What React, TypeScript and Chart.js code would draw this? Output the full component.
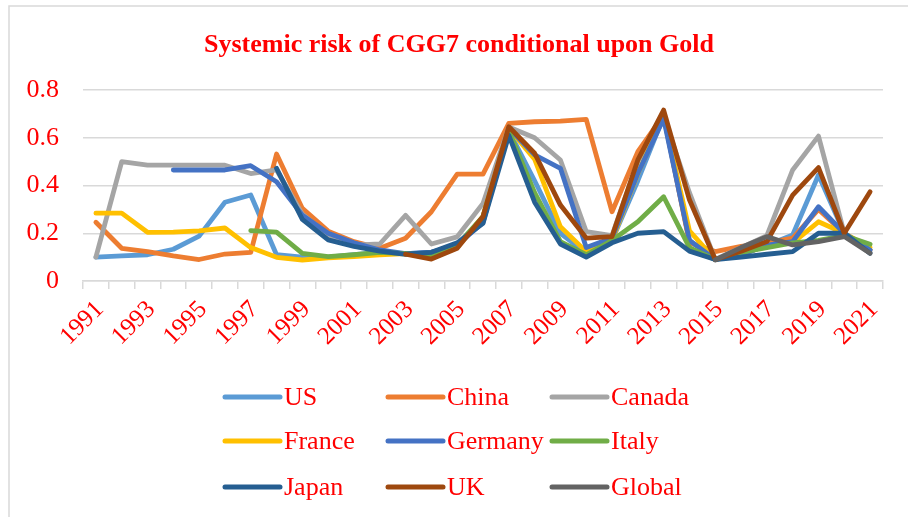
import React, { useEffect, useRef } from "react";
import { Chart, registerables } from "chart.js";

Chart.register(...registerables);

const years: string[] = [
  "1991","1992","1993","1994","1995","1996","1997","1998","1999","2000",
  "2001","2002","2003","2004","2005","2006","2007","2008","2009","2010",
  "2011","2012","2013","2014","2015","2016","2017","2018","2019","2020","2021",
];

const N = null;
const usData = [0.10,0.105,0.11,0.133,0.188,0.33,0.36,0.11,0.10,0.10,0.11,0.12,0.115,0.12,0.15,0.26,0.63,0.42,0.20,0.117,0.17,0.42,0.69,0.17,0.09,0.11,0.15,0.193,0.444,0.20,0.13];
const chinaData = [0.246,0.137,0.123,0.105,0.09,0.113,0.12,0.532,0.304,0.209,0.165,0.137,0.179,0.29,0.448,0.448,0.66,0.667,0.67,0.677,0.29,0.542,0.695,0.16,0.123,0.145,0.16,0.18,0.30,0.20,0.13];
const canadaData = [0.10,0.50,0.485,0.485,0.485,0.485,0.45,0.465,0.28,0.19,0.15,0.155,0.275,0.155,0.185,0.325,0.645,0.60,0.507,0.207,0.19,0.50,0.69,0.37,0.09,0.14,0.19,0.465,0.607,0.20,0.12];
const franceData = [0.284,0.284,0.204,0.205,0.21,0.222,0.14,0.099,0.088,0.097,0.102,0.109,0.115,0.11,0.14,0.27,0.64,0.51,0.227,0.123,0.17,0.45,0.69,0.21,0.09,0.11,0.15,0.16,0.248,0.20,0.14];
const germanyData = [N,N,N,0.465,0.465,0.465,0.483,0.416,0.276,0.20,0.16,0.13,0.115,0.12,0.15,0.245,0.64,0.528,0.472,0.14,0.18,0.451,0.68,0.17,0.09,0.11,0.15,0.165,0.311,0.20,0.13];
const italyData = [N,N,N,N,N,N,0.211,0.205,0.116,0.102,0.11,0.12,0.115,0.11,0.15,0.27,0.63,0.37,0.165,0.11,0.17,0.248,0.353,0.14,0.09,0.12,0.14,0.16,0.17,0.19,0.154];
const japanData = [N,N,N,N,N,N,N,0.472,0.258,0.172,0.145,0.125,0.112,0.12,0.16,0.242,0.61,0.33,0.155,0.10,0.16,0.20,0.207,0.125,0.09,0.10,0.112,0.123,0.20,0.20,0.116];
const ukData = [N,N,N,N,N,N,N,N,N,N,N,N,0.112,0.092,0.137,0.27,0.646,0.535,0.318,0.18,0.186,0.507,0.716,0.34,0.09,0.125,0.165,0.36,0.475,0.20,0.374];
const globalData = [N,N,N,N,N,N,N,N,N,N,N,N,N,N,N,N,N,N,N,N,N,N,N,N,0.088,0.14,0.186,0.151,0.165,0.186,0.116];

const seriesNames = ["US","China","Canada","France","Germany","Italy","Japan","UK","Global"];
const seriesColors = ["#5B9BD5","#ED7D31","#A5A5A5","#FFC000","#4472C4","#70AD47","#255E91","#9E480E","#636363"];
const seriesData = [usData, chinaData, canadaData, franceData, germanyData, italyData, japanData, ukData, globalData];

const yTicks = [0, 0.2, 0.4, 0.6, 0.8];
const titleText = "Systemic risk of CGG7 conditional upon Gold";

const RED = "#FF0000";
const GRID = "#D9D9D9";
const SERIF = "'Liberation Serif', 'Times New Roman', serif";

const framePlugin = {
  id: "frame",
  beforeDraw(chart: any) {
    const ctx = chart.ctx;
    ctx.save();
    ctx.fillStyle = "#FFFFFF";
    ctx.fillRect(0, 0, chart.width, chart.height);
    ctx.strokeStyle = GRID;
    ctx.lineWidth = 1.5;
    ctx.strokeRect(9, 6, 2000, 2000);
    ctx.restore();
  },
  afterDraw(chart: any) {
    const ctx = chart.ctx;
    ctx.save();
    ctx.fillStyle = RED;
    ctx.font = `bold 26px ${SERIF}`;
    ctx.textAlign = "center";
    ctx.textBaseline = "alphabetic";
    ctx.fillText(titleText, 459, 52);
    const colX = [225, 388, 552];
    const rowY = [397, 441, 487];
    ctx.font = `26px ${SERIF}`;
    ctx.textAlign = "left";
    ctx.textBaseline = "middle";
    seriesNames.forEach((name, i) => {
      const cx = colX[i % 3];
      const cy = rowY[Math.floor(i / 3)];
      ctx.strokeStyle = seriesColors[i];
      ctx.lineWidth = 5;
      ctx.lineCap = "round";
      ctx.beginPath();
      ctx.moveTo(cx, cy);
      ctx.lineTo(cx + 55, cy);
      ctx.stroke();
      ctx.fillStyle = RED;
      ctx.fillText(name, cx + 59, cy + 1);
    });
    ctx.restore();
  },
};

export default function App() {
  const ref = useRef<HTMLCanvasElement | null>(null);
  useEffect(() => {
    if (!ref.current) return;
    const chart = new Chart(ref.current, {
      type: "line",
      data: {
        labels: years,
        datasets: seriesNames.map((name, i) => ({
          label: name,
          data: seriesData[i],
          borderColor: seriesColors[i],
          backgroundColor: seriesColors[i],
          borderWidth: 4.8,
          pointRadius: 0,
          tension: 0,
          spanGaps: false,
          borderJoinStyle: "round" as const,
          borderCapStyle: "round" as const,
          order: seriesNames.length - i,
          clip: false as any,
        })),
      },
      options: {
        animation: false,
        responsive: false,
        events: [],
        layout: { padding: { top: 90, left: 0, right: 25, bottom: 156 } },
        plugins: {
          legend: { display: false },
          title: { display: false },
          tooltip: { enabled: false },
        },
        scales: {
          x: {
            type: "category",
            offset: true,
            afterFit: (s: any) => { s.height = 80; },
            grid: {
              offset: true,
              drawOnChartArea: false,
              drawTicks: true,
              tickLength: 8,
              color: GRID,
              lineWidth: 1.5,
            },
            border: { display: true, color: GRID, width: 1.5 },
            ticks: {
              autoSkip: false,
              maxRotation: 45,
              minRotation: 45,
              padding: 6,
              labelOffset: 4,
              color: RED,
              font: { family: SERIF, size: 25 },
              callback: (_v: any, idx: number) => (idx % 2 === 0 ? years[idx] : ""),
            },
          },
          y: {
            min: 0,
            max: 0.8,
            afterFit: (s: any) => { s.width = 83; },
            afterBuildTicks: (s: any) => { s.ticks = yTicks.map((v) => ({ value: v })); },
            grid: { color: GRID, lineWidth: 1.5, drawTicks: false },
            border: { display: false },
            ticks: {
              padding: 24,
              color: RED,
              font: { family: SERIF, size: 26 },
              callback: (v: any) => (Number(v) === 0 ? "0" : Number(v).toFixed(1)),
            },
          },
        },
      },
      plugins: [framePlugin],
    });
    return () => chart.destroy();
  }, []);
  return (
    <div style={{ position: "absolute", left: 0, top: 0, width: 908, height: 517 }}>
      <canvas ref={ref} width={908} height={517} style={{ display: "block" }} />
    </div>
  );
}
